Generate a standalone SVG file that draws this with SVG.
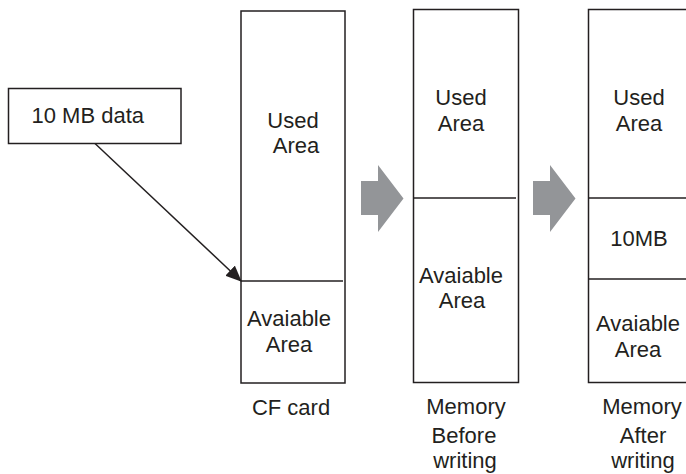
<svg xmlns="http://www.w3.org/2000/svg" width="686" height="474" viewBox="0 0 686 474">
<defs>
<style>
.box{fill:#fff;stroke:#231f20;stroke-width:1.5}
.div{stroke:#231f20;stroke-width:1.5;fill:none}
.t{font-family:"Liberation Sans",Arial,sans-serif;font-size:22px;fill:#231f20;text-anchor:middle}
.tl{font-family:"Liberation Sans",Arial,sans-serif;font-size:22px;fill:#231f20}
.big{fill:#939598}
</style>
<marker id="ah2" markerWidth="16" markerHeight="14" refX="15" refY="7" orient="auto" markerUnits="userSpaceOnUse" viewBox="0 0 16 14">
<path d="M0,0 L16,7 L0,14 z" fill="#231f20"/>
</marker>
</defs>
<g id="data">
<rect class="box" x="8.5" y="88.5" width="172.5" height="55"/>
<text class="tl" x="31.5" y="123">10 MB data</text>
</g>
<g id="cfcard">
<rect class="box" x="241" y="11" width="104" height="372"/>
<line class="div" x1="241" y1="281" x2="343" y2="281"/>
<text class="t" x="293" y="128">Used</text>
<text class="t" x="296" y="153">Area</text>
<text class="t" x="289" y="326">Avaiable</text>
<text class="t" x="289" y="352">Area</text>
<text class="t" x="291" y="415">CF card</text>
</g>
<g id="memBefore">
<rect class="box" x="413.5" y="9.5" width="105" height="373"/>
<line class="div" x1="413.5" y1="198" x2="516" y2="198"/>
<text class="t" x="461" y="105">Used</text>
<text class="t" x="461" y="130.5">Area</text>
<text class="t" x="461" y="283">Avaiable</text>
<text class="t" x="462" y="308">Area</text>
<text class="t" x="466" y="414">Memory</text>
<text class="t" x="464" y="443">Before</text>
<text class="t" x="465" y="468">writing</text>
</g>
<g id="memAfter">
<rect class="box" x="588.5" y="9.5" width="110" height="373"/>
<line class="div" x1="588.5" y1="198" x2="686" y2="198"/>
<line class="div" x1="588.5" y1="279" x2="686" y2="279"/>
<text class="t" x="639" y="105">Used</text>
<text class="t" x="639" y="130.5">Area</text>
<text class="t" x="639" y="246">10MB</text>
<text class="t" x="638" y="331">Avaiable</text>
<text class="t" x="638" y="357">Area</text>
<text class="t" x="642" y="414">Memory</text>
<text class="t" x="643" y="443">After</text>
<text class="t" x="643" y="468">writing</text>
</g>
<g id="connectors">
<line x1="95" y1="143.5" x2="241" y2="281" stroke="#231f20" stroke-width="1.5" marker-end="url(#ah2)"/>
<path class="big" d="M361,181 H378 V165 L403.5,198.5 L378,232 V215 H361 Z"/>
<path class="big" d="M533,181 H550 V165 L575.5,198.5 L550,232 V215 H533 Z"/>
</g>
</svg>
